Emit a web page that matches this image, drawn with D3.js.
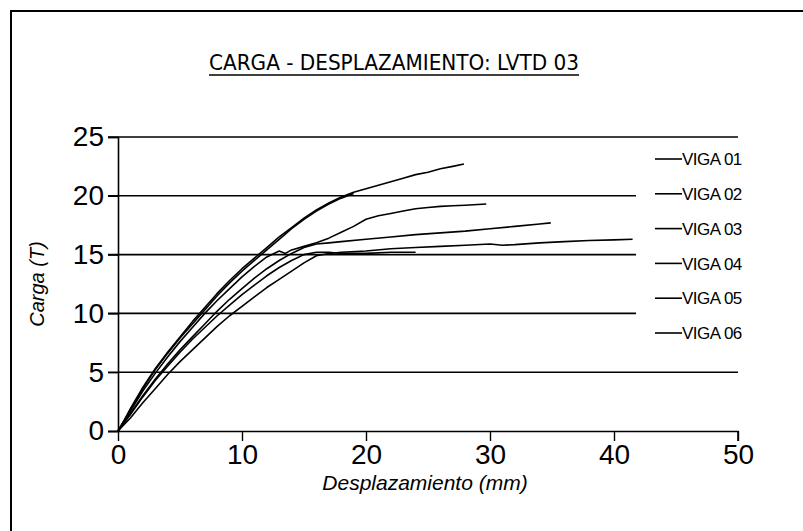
<!DOCTYPE html>
<html><head><meta charset="utf-8">
<script src="https://cdn.jsdelivr.net/npm/d3@7/dist/d3.min.js"></script>
<style>body{margin:0;background:#fff}svg{display:block}</style>
</head><body>
<svg id="c" width="803" height="531"></svg>
<script>
const title = "CARGA - DESPLAZAMIENTO: LVTD 03";
const xLabel = "Desplazamiento (mm)";
const yLabel = "Carga (T)";
const xTicks = [0, 10, 20, 30, 40, 50];
const yTicks = [0, 5, 10, 15, 20, 25];
const seriesNames = ["VIGA 01", "VIGA 02", "VIGA 03", "VIGA 04", "VIGA 05", "VIGA 06"];
const viga01 = [[0,0],[0.5,0.9],[1,1.9],[2,3.7],[3,5.3],[4,6.7],[5,8.0],[6,9.3],[7,10.5],[8,11.7],[9,12.8],[10,13.8],[11,14.7],[12,15.6],[13,16.5],[14,17.3],[15,18.1],[16,18.8],[17,19.4],[18,19.9],[19,20.3],[20,20.6],[21,20.9],[22,21.2],[23,21.5],[24,21.8],[25,22.0],[26,22.3],[27,22.5],[27.9,22.7]];
const viga02 = [[0,0],[1,1.8],[2,3.6],[3,5.2],[4,6.6],[5,7.9],[6,9.1],[7,10.3],[8,11.5],[9,12.6],[10,13.6],[11,14.5],[12,15.4],[13,16.3],[14,17.2],[15,18.0],[16,18.7],[17,19.3],[18,19.8],[19,20.2]];
const viga03 = [[0,0],[1,1.7],[2,3.4],[3,4.9],[4,6.3],[5,7.6],[6,8.8],[7,10.0],[8,11.1],[9,12.1],[10,13.1],[11,14.0],[12,14.8],[13,15.3],[13.5,15.1],[14,15.4],[15,15.7],[16,16.0],[17,16.4],[18,16.9],[19,17.4],[20,18.0],[21,18.3],[22,18.5],[23,18.7],[24,18.9],[25,19.0],[26,19.1],[27,19.15],[28,19.2],[29.7,19.3]];
const viga04 = [[0,0],[1,1.5],[2,3.0],[3,4.4],[4,5.7],[5,6.9],[6,8.0],[7,9.1],[8,10.2],[9,11.2],[10,12.1],[11,13.0],[12,13.8],[13,14.5],[14,15.1],[15,15.6],[16,15.9],[17,16.0],[18,16.1],[20,16.3],[22,16.5],[24,16.7],[26,16.85],[28,17.0],[30,17.2],[32,17.4],[34,17.6],[34.9,17.7]];
const viga05 = [[0,0],[1,1.4],[2,2.9],[3,4.3],[4,5.5],[5,6.7],[6,7.8],[7,8.8],[8,9.8],[9,10.7],[10,11.6],[11,12.4],[12,13.2],[13,13.9],[14,14.5],[15,15.0],[16,15.2],[17,15.2],[18,15.1],[20,15.1],[22,15.2],[24,15.2]];
const viga06 = [[0,0],[1,1.1],[2,2.4],[3,3.6],[4,4.8],[5,5.9],[6,6.9],[7,7.9],[8,8.9],[9,9.8],[10,10.6],[11,11.4],[12,12.2],[13,12.9],[14,13.6],[15,14.3],[16,14.9],[17,15.1],[18,15.2],[20,15.3],[22,15.5],[24,15.6],[26,15.7],[28,15.8],[30,15.9],[31,15.8],[32,15.85],[34,16.0],[36,16.1],[38,16.2],[40,16.25],[41.5,16.3]];
const seriesData = [viga01, viga02, viga03, viga04, viga05, viga06];

const svg = d3.select("#c");
const font = "'Liberation Sans', Arial, sans-serif";
const xs = d3.scaleLinear().domain([0, 50]).range([118, 738]);
const ys = d3.scaleLinear().domain([0, 25]).range([431, 137]);

// frame
svg.append("path").attr("d", "M11,531V11H803").attr("fill", "none").attr("stroke", "#000").attr("stroke-width", 2);

// title
svg.append("text").attr("x", 394).attr("y", 70).attr("text-anchor", "middle")
  .attr("font-family", "'Liberation Sans Narrow','DejaVu Sans Condensed','Liberation Sans',sans-serif")
  .attr("font-size", 22).attr("textLength", 370).attr("lengthAdjust", "spacingAndGlyphs").text(title);
svg.append("line").attr("x1", 209).attr("x2", 579).attr("y1", 75).attr("y2", 75).attr("stroke", "#000").attr("stroke-width", 1.5);

// gridlines
svg.append("g").selectAll("line").data(yTicks.filter(d => d > 0)).join("line")
  .attr("x1", 108).attr("x2", 738).attr("y1", d => ys(d)).attr("y2", d => ys(d))
  .attr("stroke", "#000").attr("stroke-width", 1.6);

// y axis
const ya = svg.append("g").attr("transform", "translate(118,0)")
  .call(d3.axisLeft(ys).tickValues(yTicks).tickSize(10).tickPadding(4).tickFormat(d3.format("d")));
// x axis
const xa = svg.append("g").attr("transform", "translate(0,431)")
  .call(d3.axisBottom(xs).tickValues(xTicks).tickSize(10).tickPadding(3).tickFormat(d3.format("d")));
[ya, xa].forEach(a => {
  a.select(".domain").attr("stroke", "#000").attr("stroke-width", 1.6);
  a.selectAll(".tick line").attr("stroke", "#000").attr("stroke-width", 1.4);
  a.selectAll("text").attr("font-family", font).attr("font-size", 28).attr("fill", "#000");
});
xa.select(".domain").attr("d", "M108,0.5H738V10");

// series
const line = d3.line().x(d => xs(d[0])).y(d => ys(d[1]));
svg.append("g").selectAll("path").data(seriesData).join("path")
  .attr("d", line).attr("fill", "none").attr("stroke", "#000").attr("stroke-width", 1.6)
  .attr("stroke-linejoin", "round");

// legend
const lg = svg.append("g");
lg.append("rect").attr("x", 636).attr("y", 145).attr("width", 160).attr("height", 205).attr("fill", "#fff");
const le = lg.selectAll("g").data(seriesNames).join("g")
  .attr("transform", (d, i) => `translate(0,${159 + i * 34.8})`);
le.append("line").attr("x1", 655).attr("x2", 682).attr("stroke", "#000").attr("stroke-width", 1.6);
le.append("text").attr("x", 682).attr("dy", "0.36em").attr("font-family", font).attr("font-size", 17)
  .attr("letter-spacing", -0.5).text(d => d);

// axis titles
svg.append("text").attr("x", 425).attr("y", 490).attr("text-anchor", "middle")
  .attr("font-family", font).attr("font-style", "italic").attr("font-size", 21).text(xLabel);
svg.append("text").attr("transform", "translate(44,284) rotate(-90)").attr("text-anchor", "middle")
  .attr("font-family", font).attr("font-style", "italic").attr("font-size", 20).text(yLabel);
</script>
</body></html>
